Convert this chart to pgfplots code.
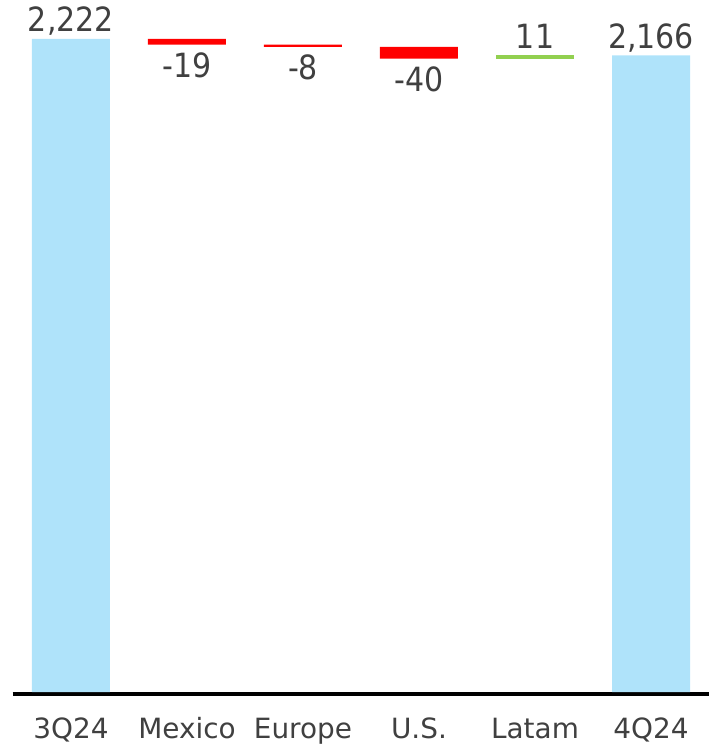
\documentclass[border=0pt]{standalone}
\usepackage{pgfplots}
\pgfplotsset{compat=1.18}
\usepackage{fontspec}
\setmainfont{DejaVu Sans}
\newfontfamily\condfont{DejaVu Sans Condensed}
\definecolor{barblue}{HTML}{AFE3FA}
\definecolor{txt}{HTML}{404040}
\definecolor{negred}{HTML}{FF0000}
\definecolor{posgreen}{HTML}{92D050}
\tikzset{lbl/.style={font=\condfont\fontsize{33.5}{40}\selectfont, text=txt, anchor=base, inner sep=0pt}}
\pgfplotsset{
  wf/.style={scale only axis, width=702bp, height=692bp,
    xmin=-0.534, xmax=5.517, ymin=0, ymax=2354.5, clip=false},
}
\begin{document}
\begin{tikzpicture}
\begin{axis}[wf,
  ybar stacked, bar width=78bp,
  axis x line=bottom, axis y line=none,
  x axis line style={-, line width=3.5bp, black, yshift=-1.9bp, shorten <=3.5bp, shorten >=2bp},
  xtick={0,...,5}, xticklabels={3Q24,Mexico,Europe,U.S.,Latam,4Q24},
  major tick length=0pt, ytick=\empty,
  xticklabel style={font=\fontsize{28}{34}\selectfont, text=txt, anchor=base, inner sep=0pt, yshift=-46bp},
]
\addplot[draw=none, fill=none] coordinates {(0,0)(1,2203)(2,2195)(3,2155)(4,2155)(5,0)};
\addplot[draw=none, fill=barblue] coordinates {(0,2222)(1,0)(2,0)(3,0)(4,0)(5,2166)};
\addplot[draw=none, fill=negred] coordinates {(0,0)(1,19)(2,8)(3,40)(4,0)(5,0)};
\addplot[draw=none, fill=posgreen] coordinates {(0,0)(1,0)(2,0)(3,0)(4,11)(5,0)};
\end{axis}
\begin{axis}[wf, hide axis]
\addplot[draw=none, mark=none, nodes near coords, point meta=explicit symbolic,
  every node near coord/.append style={lbl, yshift=7.2bp}]
  coordinates {(0,2222)[{2,222}] (4,2166)[11] (5,2166)[{2,166}]};
\addplot[draw=none, mark=none, nodes near coords, point meta=explicit symbolic,
  every node near coord/.append style={lbl, yshift=-32.5bp}]
  coordinates {(1,2203)[-19] (2,2195)[-8] (3,2155)[-40]};
\end{axis}
\pgfresetboundingbox
\path (-9bp,-55bp) rectangle (715bp,692bp);
\end{tikzpicture}
\end{document}
